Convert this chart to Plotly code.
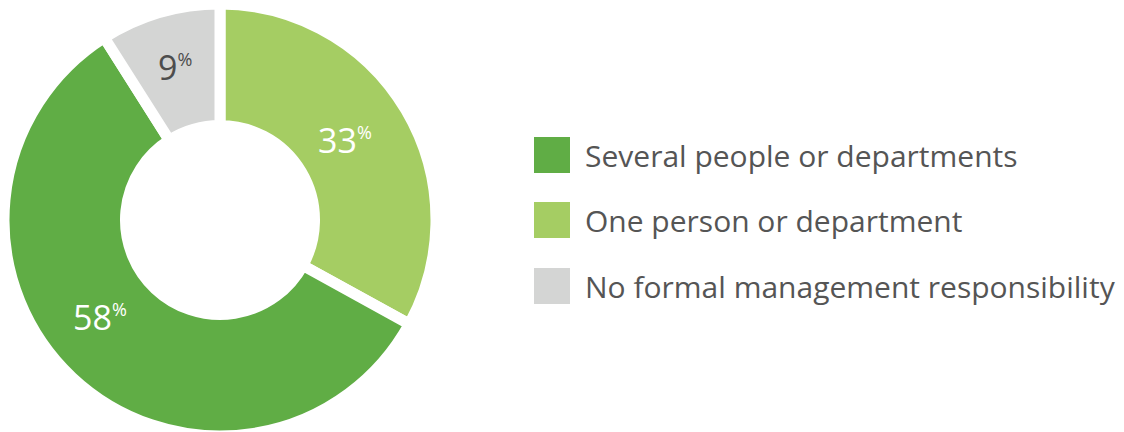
import plotly.graph_objects as go

# Slice data, in drawing order (clockwise from 12 o'clock)
labels = ["One person or department", "Several people or departments",
          "No formal management responsibility"]
values = [33, 58, 9]
colors = ["#A5CD63", "#60AD45", "#D4D5D4"]
label_colors = ["#FFFFFF", "#FFFFFF", "#4D4D4D"]

# Legend order (top to bottom), as indices into the lists above
legend_order = [1, 0, 2]

W, H = 1124, 440       # figure is a little taller than the view; overflow is clipped
CX, CY, R = 220, 220, 216   # donut centre and radius in pixels (from top-left)

fig = go.Figure()
fig.add_trace(go.Pie(
    labels=labels,
    values=values,
    sort=False,
    direction="clockwise",
    rotation=0,
    hole=0.4375,
    marker=dict(colors=colors, line=dict(color="#FFFFFF", width=11)),
    textinfo="none",
    hoverinfo="label+percent",
    showlegend=False,
    domain=dict(x=[(CX - R) / W, (CX + R) / W],
                y=[1 - (CY + R) / H, 1 - (CY - R) / H]),
))

# Value labels placed inside each ring segment
label_pos = [(345, 140), (100, 317), (175, 67)]
annotations = []
for (px, py), v, c in zip(label_pos, values, label_colors):
    annotations.append(dict(
        x=px / W, y=1 - py / H, xref="paper", yref="paper",
        xanchor="center", yanchor="middle", showarrow=False,
        text=f"{v}<sup><span style='font-size:18px'>%</span></sup>",
        font=dict(family="Open Sans", size=34, color=c),
    ))

# Custom legend: large colour squares with labels
shapes = []
row_y = [155, 220, 286]
sq = 36
for ry, idx in zip(row_y, legend_order):
    shapes.append(dict(
        type="rect", xref="paper", yref="paper",
        x0=534 / W, x1=(534 + sq) / W,
        y0=1 - (ry + sq / 2) / H, y1=1 - (ry - sq / 2) / H,
        fillcolor=colors[idx], line=dict(width=0),
    ))
    annotations.append(dict(
        x=583 / W, y=1 - ry / H, xref="paper", yref="paper",
        xanchor="left", yanchor="middle", showarrow=False,
        text=labels[idx],
        font=dict(family="Open Sans", size=30, color="#555555"),
    ))

fig.update_layout(
    width=W, height=H,
    margin=dict(l=0, r=0, t=0, b=0),
    paper_bgcolor="#FFFFFF",
    plot_bgcolor="#FFFFFF",
    annotations=annotations,
    shapes=shapes,
)

fig.write_html(
    "out.html",
    post_script="document.documentElement.style.overflow='hidden';"
                "document.body.style.overflow='hidden';"
                "document.body.style.margin='0';",
)
